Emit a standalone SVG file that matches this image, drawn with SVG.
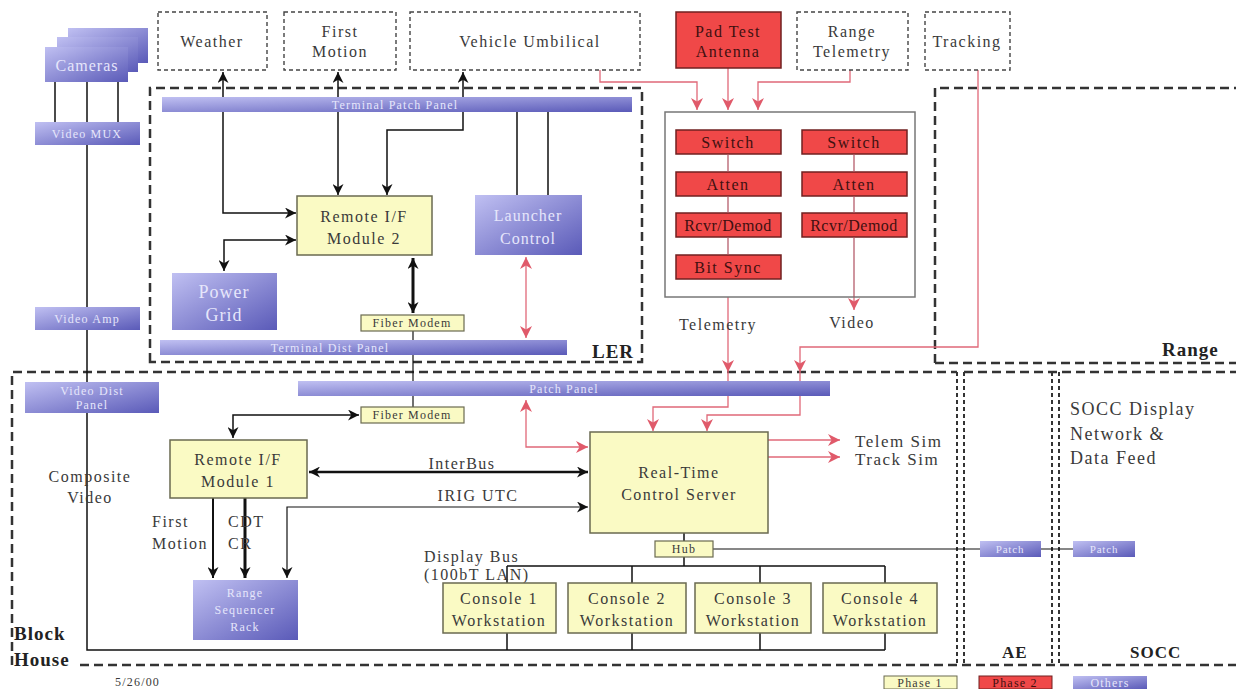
<svg xmlns="http://www.w3.org/2000/svg" width="1236" height="689" viewBox="0 0 1236 689">
<style>
text{font-family:"Liberation Serif","Times New Roman",serif;font-size:16px;letter-spacing:1.5px;fill:#3a3a3a}
.c{text-anchor:middle}
.wt{fill:#e6e6fb;text-anchor:middle;letter-spacing:1px}
.sm{font-size:12px;letter-spacing:1.2px}
.xs{font-size:11px;letter-spacing:0.8px}
.b{font-weight:bold;fill:#222;font-size:19px;letter-spacing:1px}
.rt{fill:#401010}
.blue{fill:url(#bg);stroke:none}
.yel{fill:#fafac4;stroke:#6a6a50;stroke-width:1.5}
.red{fill:#f04848;stroke:#702020;stroke-width:1.5}
.dz{fill:none;stroke:#333;stroke-width:2.5;stroke-dasharray:9,5}
.dt{fill:none;stroke:#444;stroke-width:1.4;stroke-dasharray:4,3}
.dv{fill:none;stroke:#333;stroke-width:2;stroke-dasharray:4,3}
.k{fill:none;stroke:#111;stroke-width:1.5}
.r{fill:none;stroke:#e06878;stroke-width:1.3}
</style>
<defs>
<linearGradient id="bg" x1="0" y1="0" x2="1" y2="1">
<stop offset="0" stop-color="#c0c0f2"/>
<stop offset="1" stop-color="#5a5ab8"/>
</linearGradient>
<marker id="ah" viewBox="0 0 10 10" refX="10" refY="5" markerWidth="11" markerHeight="11" markerUnits="userSpaceOnUse" orient="auto-start-reverse"><path d="M0,0 L10,5 L0,10 L3,5 z" fill="#111"/></marker>
<marker id="ar" viewBox="0 0 10 10" refX="10" refY="5" markerWidth="12" markerHeight="12" markerUnits="userSpaceOnUse" orient="auto-start-reverse"><path d="M0,0 L10,5 L0,10 L3,5 z" fill="#e05a6a"/></marker>
</defs>
<rect width="1236" height="689" fill="#fff"/>

<!-- zones -->
<g id="zones">
<path class="dz" d="M150,362 V88 H642 V362 Z"/>
<path class="dz" d="M935,363 V88 H1236"/>
<path class="dz" d="M935,363 H1236"/>
<path class="dz" d="M12,665 V372 H957"/>
<path class="dz" d="M80,665 H1236"/>
<path class="dv" d="M957,372 V665 M964,372 V665"/>
<path class="dv" d="M1052,372 V665 M1059,372 V665"/>
<path class="dz" d="M964,372 H1236"/>
<text x="592" y="358" class="b">LER</text>
<text x="1162" y="356" class="b">Range</text>
<text x="14" y="640" class="b">Block</text>
<text x="14" y="666" class="b">House</text>
<text x="1002" y="658" class="b" style="font-size:17px">AE</text>
<text x="1130" y="658" class="b" style="font-size:17px">SOCC</text>
<text x="1070" y="415" style="font-size:18px">SOCC Display</text>
<text x="1070" y="440" style="font-size:18px">Network &amp;</text>
<text x="1070" y="464" style="font-size:18px">Data Feed</text>
</g>

<!-- connectors -->
<g id="connectors">
<path class="k" d="M55,82 V122 M87,82 V122 M118,82 V122"/>
<path class="k" d="M87,145 V650 H885"/>
<path class="k" d="M223,72 V213 H296" marker-start="url(#ah)" marker-end="url(#ah)"/>
<path class="k" d="M296,240 H224 V271" marker-start="url(#ah)" marker-end="url(#ah)"/>
<path class="k" d="M338,72 V195" marker-start="url(#ah)" marker-end="url(#ah)"/>
<path class="k" d="M463,72 V130 H387 V195" marker-start="url(#ah)" marker-end="url(#ah)"/>
<path class="k" d="M517,104 V195 M548,104 V195"/>
<circle cx="517" cy="104" r="2.5" fill="#111"/>
<circle cx="548" cy="104" r="2.5" fill="#111"/>
<path class="k" style="stroke-width:3" d="M413,258 V313" marker-start="url(#ah)" marker-end="url(#ah)"/>
<path class="k" style="stroke-width:1.2" d="M413,331 V407"/>
<path class="k" d="M233,438 V415 H359" marker-start="url(#ah)" marker-end="url(#ah)"/>
<path class="k" style="stroke-width:2.5" d="M309,472 H588" marker-start="url(#ah)" marker-end="url(#ah)"/>
<path class="k" style="stroke-width:1.2" d="M588,507 H287 V578" marker-start="url(#ah)" marker-end="url(#ah)"/>
<path class="k" style="stroke-width:2" d="M213,498 V578" marker-end="url(#ah)"/>
<path class="k" style="stroke-width:3" d="M245,498 V578" marker-end="url(#ah)"/>
<path class="k" d="M684,533 V541 M684,557 V566 M507,566 H885 M507,566 V583 M632,566 V583 M760,566 V583 M885,566 V583 M507,633 V650 M632,633 V650 M760,633 V650 M885,633 V650"/>
<path class="k" style="stroke-width:1.2" d="M713,549 H1073"/>

<path class="r" d="M600,70 V82 H697 V110" marker-end="url(#ar)"/>
<path class="r" d="M728,68 V110" marker-end="url(#ar)"/>
<path class="r" d="M850,70 V82 H758 V110" marker-end="url(#ar)"/>
<path class="r" d="M728,280 V372" marker-end="url(#ar)"/>
<path class="r" d="M728,372 V407 H653 V431" marker-end="url(#ar)"/>
<path class="r" d="M854,297 V310" marker-end="url(#ar)"/>
<path class="r" d="M978,70 V347 H800 V372" marker-end="url(#ar)"/>
<path class="r" d="M800,372 V415 H707 V431" marker-end="url(#ar)"/>
<path class="r" d="M526,257 V338" marker-start="url(#ar)" marker-end="url(#ar)"/>
<path class="r" d="M526,400 V447 H588" marker-start="url(#ar)" marker-end="url(#ar)"/>
<path class="r" d="M768,440 H840" marker-end="url(#ar)"/>
<path class="r" d="M768,457 H840" marker-end="url(#ar)"/>
</g>

<!-- top sources -->
<g id="weather"><rect class="dt" x="158" y="12" width="109" height="58"/><text class="c" x="212" y="47">Weather</text></g>
<g id="first-motion-src"><rect class="dt" x="284" y="12" width="112" height="58"/><text class="c" x="340" y="37">First</text><text class="c" x="340" y="57">Motion</text></g>
<g id="vehicle-umbilical"><rect class="dt" x="410" y="12" width="230" height="58"/><text class="c" x="530" y="47">Vehicle Umbilical</text></g>
<g id="pad-test-antenna"><rect class="red" x="676" y="12" width="105" height="56"/><text class="c rt" x="728" y="37">Pad Test</text><text class="c rt" x="728" y="57">Antenna</text></g>
<g id="range-telemetry"><rect class="dt" x="797" y="12" width="111" height="58"/><text class="c" x="852" y="37">Range</text><text class="c" x="852" y="57">Telemetry</text></g>
<g id="tracking"><rect class="dt" x="925" y="12" width="85" height="58"/><text class="c" x="967" y="47">Tracking</text></g>

<!-- cameras / video -->
<g id="cameras">
<rect class="blue" x="68" y="28" width="80" height="35"/>
<rect class="blue" x="57" y="37" width="81" height="35" stroke="#e8e8ff" stroke-width="1"/>
<rect class="blue" x="45" y="47" width="83" height="35" stroke="#e8e8ff" stroke-width="1"/>
<text class="wt" x="87" y="71">Cameras</text>
</g>
<g id="video-mux"><rect class="blue" x="35" y="122" width="105" height="23"/><text class="wt sm" x="87" y="138">Video MUX</text></g>
<g id="video-amp"><rect class="blue" x="35" y="307" width="105" height="23"/><text class="wt sm" x="87" y="323">Video Amp</text></g>
<g id="video-dist-panel"><rect class="blue" x="25" y="382" width="134" height="31"/><text class="wt sm" x="92" y="395">Video Dist</text><text class="wt sm" x="92" y="409">Panel</text></g>
<g id="composite-video"><text class="c" x="90" y="482">Composite</text><text class="c" x="90" y="503">Video</text></g>

<!-- LER -->
<g id="ler-top-bar"><rect class="blue" x="162" y="97" width="470" height="15"/><text class="wt sm" x="395" y="109">Terminal Patch Panel</text></g>
<g id="remote-if-2"><rect class="yel" x="297" y="196" width="135" height="59"/><text class="c" x="364" y="222">Remote I/F</text><text class="c" x="364" y="244">Module 2</text></g>
<g id="launcher-control"><rect class="blue" x="475" y="195" width="107" height="60"/><text class="wt" x="528" y="221" style="font-size:16px">Launcher</text><text class="wt" x="528" y="244" style="font-size:16px">Control</text></g>
<g id="power-grid"><rect class="blue" x="172" y="273" width="105" height="57"/><text class="wt" x="224" y="298" style="font-size:18px">Power</text><text class="wt" x="224" y="321" style="font-size:18px">Grid</text></g>
<g id="fiber-modem-ler"><rect class="yel" x="361" y="315" width="103" height="16" style="stroke-width:1.2"/><text class="c sm" x="412" y="327">Fiber Modem</text></g>
<g id="ler-bottom-bar"><rect class="blue" x="160" y="340" width="407" height="15"/><text class="wt sm" x="330" y="352">Terminal Dist Panel</text></g>

<!-- Range -->
<g id="range-rack">
<rect x="665" y="112" width="250" height="185" fill="#fff" stroke="#777" stroke-width="1.5"/>
</g>
<g id="switch-1"><rect class="red" x="676" y="130" width="105" height="24"/><text class="c rt" x="728" y="148">Switch</text></g>
<g id="atten-1"><rect class="red" x="676" y="172" width="105" height="24"/><text class="c rt" x="728" y="190">Atten</text></g>
<g id="rcvr-1"><rect class="red" x="676" y="213" width="105" height="24"/><text class="c rt" x="728" y="231" style="letter-spacing:0.5px">Rcvr/Demod</text></g>
<g id="bitsync"><rect class="red" x="676" y="255" width="105" height="24"/><text class="c rt" x="728" y="273">Bit Sync</text></g>
<g id="switch-2"><rect class="red" x="802" y="130" width="105" height="24"/><text class="c rt" x="854" y="148">Switch</text></g>
<g id="atten-2"><rect class="red" x="802" y="172" width="105" height="24"/><text class="c rt" x="854" y="190">Atten</text></g>
<g id="rcvr-2"><rect class="red" x="802" y="213" width="105" height="24"/><text class="c rt" x="854" y="231" style="letter-spacing:0.5px">Rcvr/Demod</text></g>
<path d="M728,154 V172 M728,196 V213 M728,237 V255 M854,154 V172 M854,196 V213 M854,237 V297" stroke="#b05060" stroke-width="1.2" fill="none"/>
<text class="c" x="718" y="330">Telemetry</text>
<text class="c" x="852" y="328">Video</text>

<!-- Block House -->
<g id="patch-panel"><rect class="blue" x="298" y="381" width="532" height="15"/><text class="wt sm" x="564" y="393">Patch Panel</text></g>
<g id="fiber-modem-bh"><rect class="yel" x="361" y="407" width="103" height="16" style="stroke-width:1.2"/><text class="c sm" x="412" y="419">Fiber Modem</text></g>
<g id="remote-if-1"><rect class="yel" x="170" y="440" width="137" height="58"/><text class="c" x="238" y="465">Remote I/F</text><text class="c" x="238" y="487">Module 1</text></g>
<text class="c" x="462" y="469">InterBus</text>
<text class="c" x="478" y="501">IRIG UTC</text>
<text x="152" y="527">First</text><text x="152" y="549">Motion</text>
<text x="228" y="527">CDT</text><text x="228" y="549">CR</text>
<g id="range-sequencer"><rect class="blue" x="193" y="580" width="105" height="60"/><text class="wt sm" x="245" y="597">Range</text><text class="wt sm" x="245" y="614">Sequencer</text><text class="wt sm" x="245" y="631">Rack</text></g>
<g id="rt-server"><rect class="yel" x="590" y="432" width="178" height="101"/><text class="c" x="679" y="478">Real-Time</text><text class="c" x="679" y="500">Control Server</text></g>
<text x="855" y="447" style="font-size:17px">Telem Sim</text>
<text x="855" y="465" style="font-size:17px">Track Sim</text>
<g id="hub"><rect class="yel" x="655" y="541" width="58" height="16" style="stroke-width:1.2"/><text class="c sm" x="684" y="553">Hub</text></g>
<text x="424" y="562">Display Bus</text>
<text x="424" y="580">(100bT LAN)</text>
<g id="console-1"><rect class="yel" x="443" y="583" width="113" height="50"/><text class="c" x="499" y="604">Console 1</text><text class="c" x="499" y="626">Workstation</text></g>
<g id="console-2"><rect class="yel" x="568" y="583" width="118" height="50"/><text class="c" x="627" y="604">Console 2</text><text class="c" x="627" y="626">Workstation</text></g>
<g id="console-3"><rect class="yel" x="695" y="583" width="116" height="50"/><text class="c" x="753" y="604">Console 3</text><text class="c" x="753" y="626">Workstation</text></g>
<g id="console-4"><rect class="yel" x="823" y="583" width="114" height="50"/><text class="c" x="880" y="604">Console 4</text><text class="c" x="880" y="626">Workstation</text></g>

<!-- AE / SOCC -->
<g id="ae-patch"><rect class="blue" x="980" y="541" width="61" height="16"/><text class="wt xs" x="1010" y="553">Patch</text></g>
<g id="socc-patch"><rect class="blue" x="1073" y="541" width="62" height="16"/><text class="wt xs" x="1104" y="553">Patch</text></g>

<!-- footer / legend -->
<text x="115" y="686" class="sm">5/26/00</text>
<g id="legend-phase1"><rect class="yel" x="884" y="676" width="73" height="13" style="stroke-width:1"/><text class="c sm" x="920" y="687">Phase 1</text></g>
<g id="legend-phase2"><rect class="red" x="979" y="676" width="73" height="13" style="stroke-width:1"/><text class="c sm rt" x="1015" y="687">Phase 2</text></g>
<g id="legend-others"><rect class="blue" x="1073" y="676" width="74" height="13"/><text class="wt sm" x="1110" y="687">Others</text></g>
</svg>
